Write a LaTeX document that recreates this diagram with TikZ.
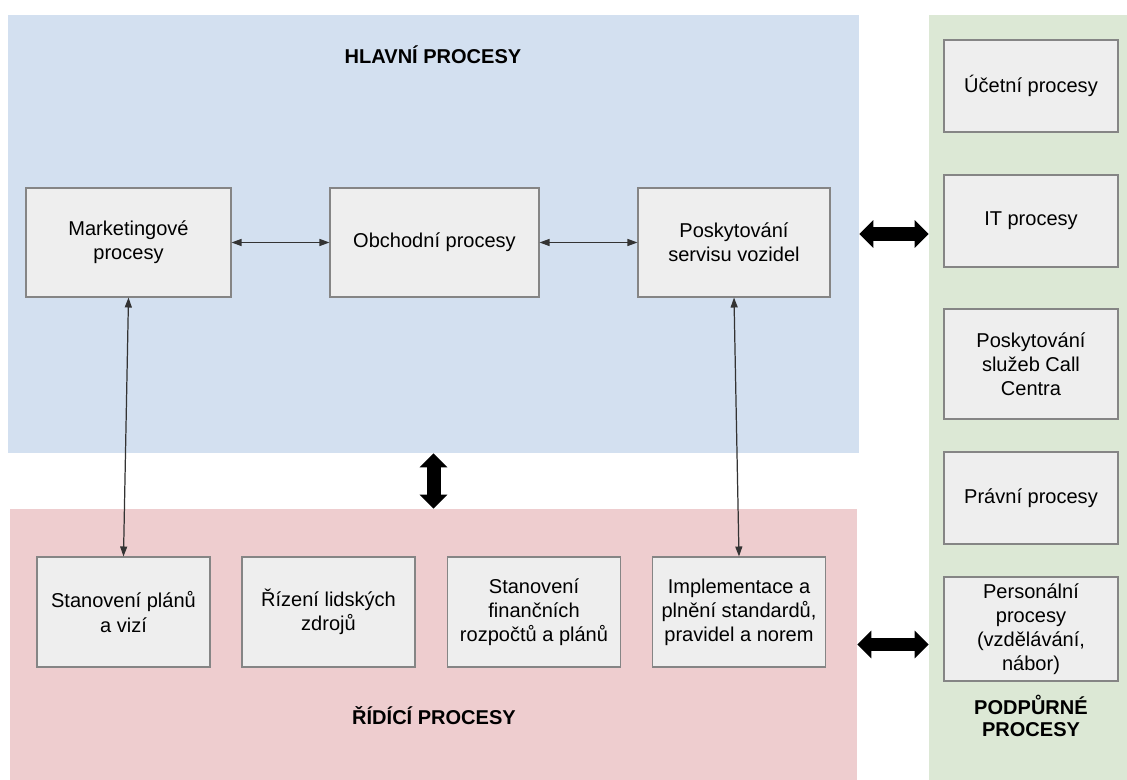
\documentclass[tikz,border=0pt]{standalone}
\usepackage{fontspec}
\setmainfont{Liberation Sans}
\usepackage{xcolor}
\usepackage{tikz}
\usetikzlibrary{positioning,arrows.meta}
\definecolor{HlavniBlue}{HTML}{D3E0F0}
\definecolor{RidiciPink}{HTML}{EECDCF}
\definecolor{PodpurGreen}{HTML}{DCE8D5}
\definecolor{BoxFill}{HTML}{EEEEEE}
\definecolor{BoxLine}{HTML}{858585}

\begin{document}
\begin{tikzpicture}[x=0.02cm, y=-0.02cm,
        area/.style={rectangle, draw=none, inner sep=0pt},
        proc/.style={rectangle, draw=BoxLine, fill=BoxFill, align=center, inner sep=2pt, line width=0.6pt, font=\fontsize{11.4}{13.7}\selectfont},
        blueproc/.style={proc, minimum height=2.18cm},
        pinkproc/.style={proc, minimum width=3.46cm, minimum height=2.2cm},
        greenproc/.style={proc, minimum width=3.48cm},
        heading/.style={align=center, font=\fontsize{11.4}{12.5}\selectfont\bfseries},
        arrow/.style={draw=black!80, line width=0.7pt, {Triangle[length=0.2cm,width=0.14cm]}-{Triangle[length=0.2cm,width=0.14cm]}},
        bigarrow/.style={draw=black, line width=0.28cm, {Triangle[length=0.28cm,width=0.54cm]}-{Triangle[length=0.28cm,width=0.54cm]}}
    ]
        \useasboundingbox (0,0) rectangle (1127,780);

        % the three areas
        \node [area, fill=HlavniBlue, minimum width=17.02cm, minimum height=8.76cm] (hlavni) at (433.5,234) {};
        \node [area, fill=RidiciPink, minimum width=16.94cm, minimum height=5.42cm] (ridici) at (433.5,644.5) {};
        \node [area, fill=PodpurGreen, minimum width=3.96cm, minimum height=15.3cm] (podpur) at (1028,397.5) {};

        \node [heading] (tHlavni) at (433,55) {HLAVNÍ PROCESY};
        \node [heading] (tRidici) at (434,716) {ŘÍDÍCÍ PROCESY};
        \node [heading] (tPodpur) at (1031,716) {PODPŮRNÉ\\PROCESY};

        % main processes
        \node [blueproc, minimum width=4.1cm] (mkt) at (128.5,242.5) {Marketingové\\procesy};
        \node [blueproc, minimum width=4.18cm] (obch) at (434.5,242.5) {Obchodní procesy};
        \node [blueproc, minimum width=3.84cm] (servis) at (734,242.5) {Poskytování\\servisu vozidel};

        % management processes
        \node [pinkproc] (plany) at (123.5,612) {Stanovení plánů\\a vizí};
        \node [pinkproc] (lidi) at (328.5,612) {Řízení lidských\\zdrojů};
        \node [pinkproc] (rozpocty) at (534,612) {Stanovení\\finančních\\rozpočtů a plánů};
        \node [pinkproc] (normy) at (739,612) {Implementace a\\plnění standardů,\\pravidel a norem};

        % support processes
        \node [greenproc, minimum height=1.84cm] (ucetni) at (1031,86) {Účetní procesy};
        \node [greenproc, minimum height=1.84cm] (it) at (1031,221) {IT procesy};
        \node [greenproc, minimum height=2.2cm] (callc) at (1031,364) {Poskytování\\služeb Call\\Centra};
        \node [greenproc, minimum height=1.84cm] (pravni) at (1031,498) {Právní procesy};
        \node [greenproc, minimum height=2.08cm] (personal) at (1031,629) {Personální\\procesy\\(vzdělávání,\\nábor)};

        \draw [arrow] (mkt) -- (obch);
        \draw [arrow] (obch) -- (servis);
        \draw [arrow] (mkt.south) -- (plany.north);
        \draw [arrow] (servis.south) -- (normy.north);

        \draw [bigarrow] (hlavni.east) -- (hlavni.east -| podpur.west);
        \draw [bigarrow] (ridici.east) -- (ridici.east -| podpur.west);
        \draw [bigarrow] (hlavni.south) -- (hlavni.south |- ridici.north);
    \end{tikzpicture}
\end{document}
